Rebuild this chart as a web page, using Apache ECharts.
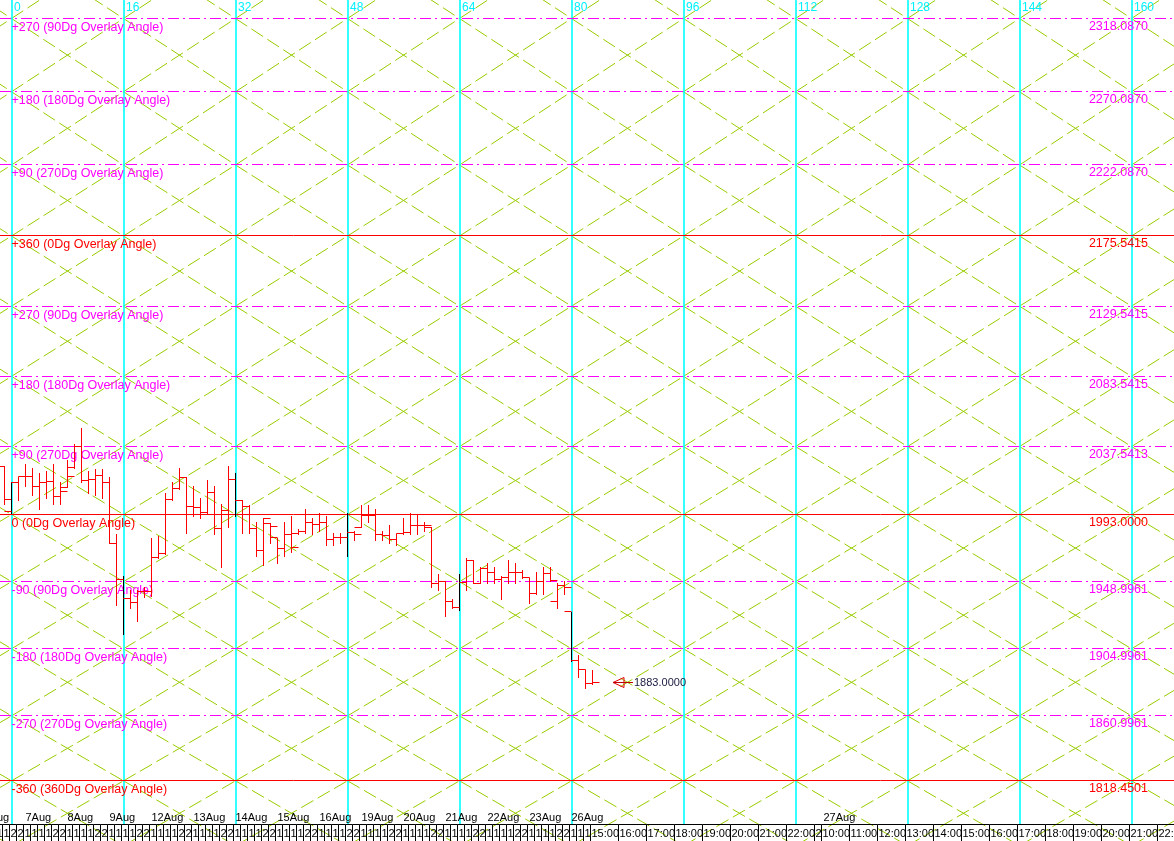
<!DOCTYPE html>
<html><head><meta charset="utf-8">
<script src="https://cdn.jsdelivr.net/npm/echarts@6/dist/echarts.min.js"></script>
<style>html,body{margin:0;padding:0;background:#fff;overflow:hidden}#c{width:1174px;height:841px}</style>
</head><body><div id="c"></div>
<script>
// ---------------- data ----------------
const levelPrices = [2318.0870, 2270.0870, 2222.0870, 2175.5415, 2129.5415, 2083.5415, 2037.5413, 1993.0000, 1948.9961, 1904.9961, 1860.9961, 1818.4501];
const levelLeftLabels = ['+270 (90Dg Overlay Angle)', '+180 (180Dg Overlay Angle)', '+90 (270Dg Overlay Angle)', '+360 (0Dg Overlay Angle)', '+270 (90Dg Overlay Angle)', '+180 (180Dg Overlay Angle)', '+90 (270Dg Overlay Angle)', '0 (0Dg Overlay Angle)', '-90 (90Dg Overlay Angle)', '-180 (180Dg Overlay Angle)', '-270 (270Dg Overlay Angle)', '-360 (360Dg Overlay Angle)'];
const levelRightLabels = ['2318.0870', '2270.0870', '2222.0870', '2175.5415', '2129.5415', '2083.5415', '2037.5413', '1993.0000', '1948.9961', '1904.9961', '1860.9961', '1818.4501'];
const levelMajor = [false, false, false, true, false, false, false, true, false, false, false, true];
const bandOuterTop = 2366.087;
const bandOuterBottom = 1775.9;

const cycleBars = [0, 16, 32, 48, 64, 80, 96, 112, 128, 144, 160];
const cycleLabels = ['0', '16', '32', '48', '64', '80', '96', '112', '128', '144', '160'];

const firstBar = -1;
const opens = [2024.5, 1995.0, 2014.0, 2017.9, 2017.9, 2011.4, 2014.0, 2014.6, 2004.8, 2010.7,
  2023.8, 2037.6, 2015.3, 2015.9, 2018.6, 2014.0, 1974.0, 1950.4, 1937.9, 1935.3,
  1942.5, 1942.5, 1964.8, 1967.4, 2002.8, 2010.0, 2017.2, 1998.2, 1997.6, 1994.3,
  2007.4, 1983.8, 1995.6, 2015.9, 2002.2, 1998.2, 1983.8, 1969.4, 1987.1, 1977.9,
  1970.7, 1979.9, 1980.5, 1981.9, 1987.8, 1986.4, 1987.8, 1976.6, 1977.9, 1977.9,
  1981.2, 1984.5, 1992.3, 1992.3, 1979.9, 1979.2, 1976.6, 1980.5, 1981.2, 1985.8,
  1985.8, 1984.5, 1947.8, 1949.1, 1936.0, 1932.0, 1948.4, 1962.9, 1947.8, 1957.6,
  1955.0, 1950.4, 1951.7, 1955.0, 1955.0, 1951.7, 1941.2, 1949.1, 1954.3, 1936.0,
  1946.5, 1929.4, 1897.3, 1891.4, 1882.2];
const highs = [2024.5, 2014.0, 2017.9, 2026.4, 2023.8, 2019.9, 2021.8, 2026.4, 2014.6, 2029.0,
  2038.9, 2050.0, 2021.8, 2022.5, 2022.5, 2017.9, 1980.5, 1952.4, 1943.2, 1943.2,
  1945.2, 1977.9, 1978.6, 2006.8, 2014.0, 2023.8, 2017.9, 2011.4, 2003.5, 2015.3,
  2011.4, 2000.2, 2024.5, 2019.9, 2002.2, 1998.9, 1987.8, 1991.0, 1987.1, 1977.9,
  1987.8, 1992.3, 1983.8, 1996.9, 1990.4, 1993.7, 1992.3, 1981.2, 1981.2, 1994.3,
  1982.5, 1998.9, 1998.9, 1996.9, 1981.9, 1985.8, 1980.5, 1990.4, 1993.7, 1993.0,
  1987.8, 1984.5, 1954.3, 1949.7, 1937.9, 1954.3, 1964.2, 1962.9, 1958.9, 1960.9,
  1958.3, 1952.4, 1962.9, 1960.9, 1956.3, 1951.7, 1955.0, 1958.9, 1958.3, 1947.8,
  1949.7, 1929.4, 1900.6, 1891.4, 1890.8];
const lows = [2000.2, 1993.7, 2002.2, 2012.0, 2006.1, 1996.9, 2004.1, 2000.2, 2000.2, 2010.7,
  2023.8, 2014.0, 2006.8, 2005.5, 2003.5, 1974.0, 1933.4, 1915.0, 1931.4, 1923.5,
  1938.6, 1939.9, 1964.8, 1967.4, 2002.8, 2009.4, 1981.2, 1992.3, 1991.0, 1993.7,
  1980.5, 1958.3, 1984.5, 1992.3, 1981.2, 1981.2, 1966.1, 1959.6, 1974.0, 1960.9,
  1966.1, 1968.1, 1980.5, 1981.2, 1980.5, 1982.5, 1972.7, 1972.7, 1974.0, 1966.1,
  1976.0, 1984.5, 1987.8, 1976.0, 1976.0, 1974.0, 1972.7, 1980.5, 1980.5, 1979.9,
  1981.9, 1945.2, 1943.2, 1926.8, 1931.4, 1930.7, 1943.8, 1947.8, 1947.8, 1948.4,
  1947.8, 1937.9, 1948.4, 1947.8, 1951.1, 1934.7, 1941.2, 1941.2, 1949.7, 1931.4,
  1941.2, 1897.3, 1886.2, 1879.0, 1882.2];
const closes = [2002.8, 2014.0, 2017.9, 2017.9, 2011.4, 2014.0, 2014.6, 2004.8, 2008.1, 2017.9,
  2037.6, 2015.3, 2015.9, 2018.6, 2014.0, 1974.0, 1950.4, 1937.9, 1935.3, 1942.5,
  1942.5, 1964.8, 1967.4, 2002.8, 2010.0, 2017.2, 1998.2, 1997.6, 1994.3, 2007.4,
  1983.8, 1995.6, 2015.9, 2002.2, 1998.2, 1983.8, 1969.4, 1990.4, 1985.1, 1970.7,
  1979.9, 1971.4, 1981.9, 1987.8, 1986.4, 1987.8, 1976.6, 1977.9, 1977.9, 1981.2,
  1979.9, 1992.3, 1992.3, 1979.9, 1979.2, 1976.6, 1980.5, 1981.2, 1985.8, 1985.8,
  1985.8, 1947.8, 1949.1, 1936.0, 1932.0, 1948.4, 1962.9, 1947.8, 1957.6, 1955.0,
  1950.4, 1951.7, 1955.0, 1955.0, 1951.7, 1941.2, 1949.1, 1954.3, 1949.7, 1946.5,
  1945.2, 1897.3, 1891.4, 1882.2, 1883.0];
const lastPriceLabel = '1883.0000';

const dayLabels = ['6Aug', '7Aug', '8Aug', '9Aug', '12Aug', '13Aug', '14Aug', '15Aug', '16Aug', '19Aug', '20Aug', '21Aug', '22Aug', '23Aug', '26Aug', '27Aug'];
const dayStarts = [-4, 2, 8, 14, 20, 26, 32, 38, 44, 50, 56, 62, 68, 74, 80, 116];
const sessionHours = ['10:00', '11:00', '14:00', '15:00', '22:00', '23:00'];
const lastDayBars = 4;
const futureHourLabels = ['16:00', '17:00', '18:00', '19:00', '20:00', '21:00', '22:00', '23:00', '10:00', '11:00', '12:00', '13:00', '14:00', '15:00', '16:00', '17:00', '18:00', '19:00', '20:00', '21:00', '22:00'];
const futureHourStarts = [87, 91, 95, 99, 103, 107, 111, 115, 116, 120, 124, 128, 132, 136, 140, 144, 148, 152, 156, 160, 164];

// ---------------- build ----------------
const FONT = '"Liberation Sans", Arial, sans-serif';
const barData = opens.map((o, k) => [firstBar + k, o, highs[k], lows[k], closes[k]]);

const bandLevels = [bandOuterTop].concat(levelPrices, [bandOuterBottom]);
const cols = [-16].concat(cycleBars, [176]);
const diagSegs = [];
for (let b = 0; b < bandLevels.length - 1; b++) {
  for (let c = 0; c < cols.length - 1; c++) {
    diagSegs.push([cols[c], bandLevels[b], cols[c + 1], bandLevels[b + 1]]);
    diagSegs.push([cols[c], bandLevels[b + 1], cols[c + 1], bandLevels[b]]);
  }
}

const cellStarts = [], cellLabels = [];
for (let d = 0; d < dayStarts.length - 2; d++) {
  for (let j = 0; j < sessionHours.length; j++) { cellStarts.push(dayStarts[d] + j); cellLabels.push(sessionHours[j]); }
}
for (let j = 0; j < lastDayBars; j++) { cellStarts.push(dayStarts[dayStarts.length - 2] + j); cellLabels.push(sessionHours[j]); }
futureHourStarts.forEach((s, k) => { cellStarts.push(s); cellLabels.push(futureHourLabels[k]); });
const cellData = cellStarts.map((s, k) => [s, 0, (k < cellStarts.length - 1 ? cellStarts[k + 1] : s + 4) - s]);

const crisp = v => Math.round(v - 0.5) + 0.5;

const chart = echarts.init(document.getElementById('c'), null, { renderer: 'canvas' });
chart.setOption({
  animation: false,
  backgroundColor: '#ffffff',
  grid: { left: 0, right: 0, top: 0, bottom: 17 },
  xAxis: { type: 'value', min: -11.5 / 7, max: (1174 - 11.5) / 7, show: false },
  yAxis: { type: 'value', min: 1790.146, max: 2330.212, show: false },
  series: [
    { // gann diagonals
      type: 'custom', z: 1, silent: true, data: diagSegs,
      renderItem: (params, api) => {
        const p1 = api.coord([api.value(0), api.value(1)]);
        const p2 = api.coord([api.value(2), api.value(3)]);
        return { type: 'line', shape: { x1: p1[0], y1: p1[1], x2: p2[0], y2: p2[1] },
          style: { stroke: '#99cc00', lineWidth: 1, lineDash: [14, 5] } };
      }
    },
    { // cycle verticals
      type: 'custom', z: 2, silent: true, data: cycleBars.map(b => [b, 0]),
      renderItem: (params, api) => {
        const cs = params.coordSys;
        const x = Math.round(api.coord([api.value(0), 2000])[0]);
        return { type: 'group', children: [
          { type: 'line', shape: { x1: x, y1: cs.y, x2: x, y2: cs.y + cs.height }, style: { stroke: '#00ffff', lineWidth: 1.6 } },
          { type: 'text', style: { x: x + 2, y: 2, text: cycleLabels[params.dataIndex], fill: '#00f0ff', font: '12px ' + FONT, textAlign: 'left', textVerticalAlign: 'top', align: 'left', verticalAlign: 'top' } }
        ] };
      }
    },
    { // angle levels
      type: 'custom', z: 3, silent: true, data: levelPrices.map(p => [0, p]),
      renderItem: (params, api) => {
        const cs = params.coordSys;
        const i = params.dataIndex;
        const p = api.coord([0, api.value(1)]);
        const y = crisp(p[1]);
        const col = levelMajor[i] ? '#ff0000' : '#ff00ff';
        return { type: 'group', children: [
          { type: 'line', shape: { x1: cs.x, y1: y, x2: cs.x + cs.width, y2: y },
            style: { stroke: col, lineWidth: 1, lineDash: levelMajor[i] ? null : [11, 4, 2, 4] } },
          { type: 'text', style: { x: p[0], y: y + 3, text: levelLeftLabels[i], fill: col, font: '12.5px ' + FONT, textAlign: 'left', textVerticalAlign: 'top', align: 'left', verticalAlign: 'top' } },
          { type: 'text', style: { x: cs.x + cs.width - 26, y: y + 2, text: levelRightLabels[i], fill: col, font: '12.5px ' + FONT, textAlign: 'right', textVerticalAlign: 'top', align: 'right', verticalAlign: 'top' } }
        ] };
      }
    },
    { // OHLC bars
      type: 'custom', z: 4, silent: true, data: barData,
      renderItem: (params, api) => {
        const i = api.value(0);
        const pO = api.coord([i, api.value(1)]);
        const pH = api.coord([i, api.value(2)]);
        const pL = api.coord([i, api.value(3)]);
        const pC = api.coord([i, api.value(4)]);
        const w = api.size([1, 0])[0];
        const x = crisp(pO[0]);
        const vCol = (i % 16 === 0) ? '#000000' : '#ff0000';
        return { type: 'group', children: [
          { type: 'line', shape: { x1: x, y1: Math.round(pH[1]), x2: x, y2: Math.round(pL[1]) + 1 }, style: { stroke: vCol, lineWidth: 1 } },
          { type: 'line', shape: { x1: x - w, y1: crisp(pO[1]), x2: x, y2: crisp(pO[1]) }, style: { stroke: '#ff0000', lineWidth: 1 } },
          { type: 'line', shape: { x1: x, y1: crisp(pC[1]), x2: x + w, y2: crisp(pC[1]) }, style: { stroke: '#ff0000', lineWidth: 1 } }
        ] };
      }
    },
    { // last price arrow
      type: 'custom', z: 5, silent: true, data: [[firstBar + closes.length - 1, closes[closes.length - 1]]],
      renderItem: (params, api) => {
        const p = api.coord([api.value(0), api.value(1)]);
        const tx = Math.round(p[0]) + 20, ty = crisp(p[1]);
        return { type: 'group', children: [
          { type: 'polygon', shape: { points: [[tx, ty], [tx + 11, ty - 5], [tx + 11, ty + 5]] }, style: { stroke: '#e00000', fill: null, lineWidth: 1 } },
          { type: 'line', shape: { x1: tx, y1: ty, x2: tx + 20, y2: ty }, style: { stroke: '#c00000', lineWidth: 1 } },
          { type: 'text', style: { x: tx + 21, y: ty, text: lastPriceLabel, fill: '#1a1a40', font: '11px ' + FONT, textAlign: 'left', textVerticalAlign: 'middle', align: 'left', verticalAlign: 'middle' } }
        ] };
      }
    },
    { // date labels
      type: 'custom', z: 6, silent: true, data: dayStarts.map(s => [s, 0]),
      renderItem: (params, api) => {
        const cs = params.coordSys;
        const x = api.coord([api.value(0), 2000])[0];
        return { type: 'text', style: { x: Math.round(x) - 0.5, y: cs.y + cs.height - 6, text: dayLabels[params.dataIndex], fill: '#000000', font: '11px ' + FONT, textAlign: 'left', textVerticalAlign: 'middle', align: 'left', verticalAlign: 'middle' } };
      }
    },
    { // hour cells
      type: 'custom', z: 6, silent: true, data: cellData,
      renderItem: (params, api) => {
        const cs = params.coordSys;
        const s = api.value(0), wBars = api.value(2);
        const x0 = crisp(api.coord([s - 2 / 7, 2000])[0]);
        const x1 = crisp(api.coord([s + wBars - 2 / 7, 2000])[0]);
        const top = cs.y + cs.height + 0.5;
        const lbl = cellLabels[params.dataIndex];
        const shown = wBars >= 3 ? lbl : lbl.charAt(0);
        return { type: 'group', children: [
          { type: 'line', shape: { x1: x0, y1: top, x2: x1, y2: top }, style: { stroke: '#000', lineWidth: 1 } },
          { type: 'line', shape: { x1: x0, y1: top, x2: x0, y2: top + 17 }, style: { stroke: '#000', lineWidth: 1 } },
          { type: 'text', style: { x: x0 + 1, y: top + 9, text: shown, fill: '#000000', font: '11px ' + FONT, textAlign: 'left', textVerticalAlign: 'middle', align: 'left', verticalAlign: 'middle' } }
        ] };
      }
    }
  ]
});
</script>
</body></html>
